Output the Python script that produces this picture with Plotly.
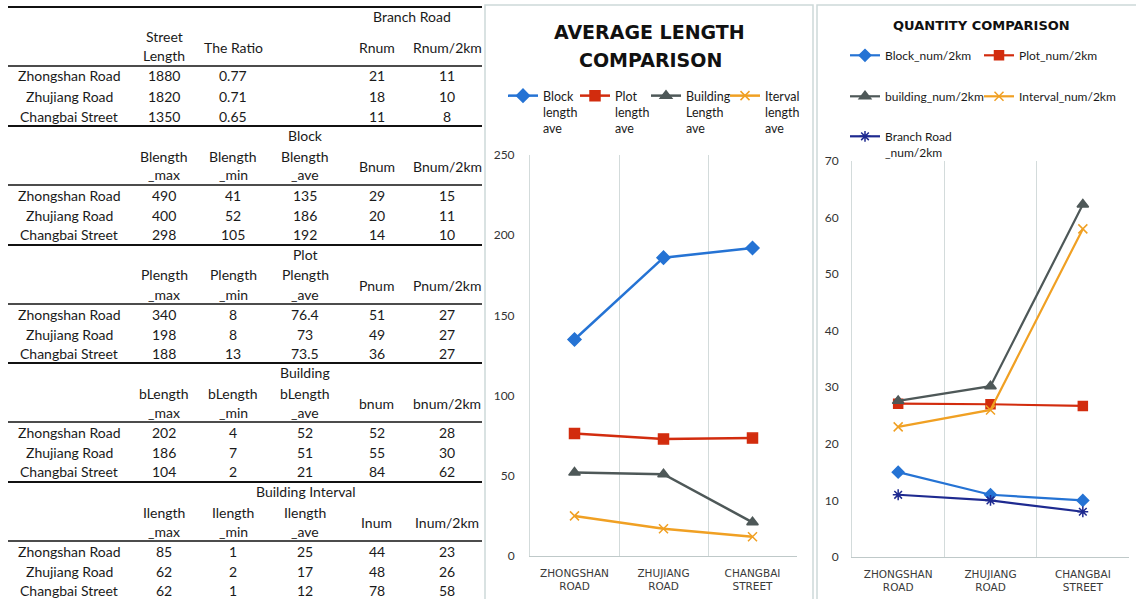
import plotly.graph_objects as go

W, H = 1136, 599

# ---------------- data ----------------
roads = ["Zhongshan Road", "Zhujiang Road", "Changbai Street"]
road_ticks = ["ZHONGSHAN<br>ROAD", "ZHUJIANG<br>ROAD", "CHANGBAI<br>STREET"]

street_length = [1880, 1820, 1350]
the_ratio = [0.77, 0.71, 0.65]
rnum = [21, 18, 11]
rnum_2km = [11, 10, 8]

blength_max = [490, 400, 298]
blength_min = [41, 52, 105]
blength_ave = [135, 186, 192]
bnum = [29, 20, 14]
bnum_2km = [15, 11, 10]

plength_max = [340, 198, 188]
plength_min = [8, 8, 13]
plength_ave = [76.4, 73, 73.5]
pnum = [51, 49, 36]
pnum_2km = [27, 27, 27]

bld_length_max = [202, 186, 104]
bld_length_min = [4, 7, 2]
bld_length_ave = [52, 51, 21]
bld_num = [52, 55, 84]
bld_num_2km = [28, 30, 62]

ilength_max = [85, 62, 62]
ilength_min = [1, 2, 1]
ilength_ave = [25, 17, 12]
inum = [44, 48, 78]
inum_2km = [23, 26, 58]

# values as drawn in the quantity chart
q_block = [15, 11, 10]
q_plot = [27.1, 27.0, 26.7]
q_building = [27.6, 30.2, 62.3]
q_interval = [23, 26, 58]
q_branch = [11, 10, 8]

# ---------------- helpers ----------------
def px(x):
    return x / W

def py(y):
    return 1 - y / H

TXT = "#1a1a1a"
TFONT = "Lato"

annotations = []
shapes = []

def txt(x, y, s, size=14, color=TXT, family=TFONT, bold=False, xanchor="center"):
    annotations.append(dict(
        x=px(x), y=py(y), xref="paper", yref="paper", text=("<b>%s</b>" % s) if bold else s,
        showarrow=False, xanchor=xanchor, yanchor="middle",
        font=dict(family=family, size=size, color=color), borderpad=0))

def hline(y, w=2, x0=8, x1=482, color="#111111"):
    shapes.append(dict(type="line", xref="paper", yref="paper", x0=px(x0), x1=px(x1),
                       y0=py(y), y1=py(y), line=dict(color=color, width=w)))

cols = [69, 164, 233, 305, 377, 447]
tops = [7, 126, 245, 363, 482]

def fmt(v):
    return ("%g" % v)

sections = [
    dict(title="Branch Road", tx=412,
         heads=[("Street", "Length"), None, None, "The Ratio", None, "Rnum", "Rnum/2km"],
         cols=[street_length, ["%.2f" % v for v in the_ratio], None, rnum, rnum_2km]),
    dict(title="Block", tx=305,
         heads=[("Blength", "_max"), ("Blength", "_min"), ("Blength", "_ave"), None, None, "Bnum", "Bnum/2km"],
         cols=[blength_max, blength_min, blength_ave, bnum, bnum_2km]),
    dict(title="Plot", tx=305,
         heads=[("Plength", "_max"), ("Plength", "_min"), ("Plength", "_ave"), None, None, "Pnum", "Pnum/2km"],
         cols=[plength_max, plength_min, plength_ave, pnum, pnum_2km]),
    dict(title="Building", tx=305,
         heads=[("bLength", "_max"), ("bLength", "_min"), ("bLength", "_ave"), None, None, "bnum", "bnum/2km"],
         cols=[bld_length_max, bld_length_min, bld_length_ave, bld_num, bld_num_2km]),
    dict(title="Building Interval", tx=306,
         heads=[("Ilength", "_max"), ("Ilength", "_min"), ("Ilength", "_ave"), None, None, "Inum", "Inum/2km"],
         cols=[ilength_max, ilength_min, ilength_ave, inum, inum_2km]),
]

for si, sec in enumerate(sections):
    t = tops[si]
    hline(t, 2)
    hline(t + 59, 1.6)
    txt(sec["tx"], t + 9, sec["title"])
    h = sec["heads"]
    for ci in range(3):
        if h[ci] is not None:
            txt(cols[ci + 1], t + 30, h[ci][0])
            txt(cols[ci + 1], t + 49, h[ci][1])
    if si == 0:
        txt(cols[2], t + 40, h[3])
    txt(cols[4], t + 40, h[5])
    txt(cols[5], t + 40, h[6])
    for ri, road in enumerate(roads):
        yy = t + 69 + 20 * ri - (1 if ri == 2 and si > 0 else 0)
        txt(cols[0], yy, road)
        for ci, col in enumerate(sec["cols"]):
            if col is None:
                continue
            v = col[ri]
            txt(cols[ci + 1], yy, v if isinstance(v, str) else fmt(v))

# panel borders
for x0, x1 in [(485, 813), (817, 1145)]:
    shapes.append(dict(type="rect", xref="paper", yref="paper", x0=px(x0), x1=px(x1),
                       y0=py(610), y1=py(5), line=dict(color="#CDD9D9", width=1.5),
                       fillcolor="rgba(0,0,0,0)", layer="below"))

# chart titles
txt(649, 32, "AVERAGE LENGTH", size=19, family="DejaVu Sans", bold=True, color="#111111")
txt(650, 60, "COMPARISON", size=19, family="DejaVu Sans", bold=True, color="#111111")
txt(981, 25, "QUANTITY COMPARISON", size=13, family="DejaVu Sans", bold=True, color="#111111")

# ---------------- traces ----------------
BLUE = "#2573D4"
RED = "#D22C0E"
GRAY = "#4E5858"
ORANGE = "#F0A023"
NAVY = "#1E2A90"

fig = go.Figure()

def add(y, name, color, symbol, size, xa, ya, legend, width=2.5):
    fig.add_trace(go.Scatter(
        x=road_ticks, y=y, name=name, mode="lines+markers",
        line=dict(color=color, width=width),
        marker=dict(symbol=symbol, size=size, color=color, line=dict(color=color, width=1.5)),
        xaxis=xa, yaxis=ya, legend=legend, cliponaxis=False))

add(blength_ave, "Block<br>length<br>ave", BLUE, "diamond", 10, "x", "y", "legend")
add(plength_ave, "Plot<br>length<br>ave", RED, "square", 10, "x", "y", "legend2")
add(bld_length_ave, "Building<br>Length<br>ave", GRAY, "triangle-up", 10, "x", "y", "legend3")
add(ilength_ave, "Iterval<br>length<br>ave", ORANGE, "x-thin-open", 9, "x", "y", "legend4")

add(q_block, "Block_num/2km", BLUE, "diamond", 9, "x2", "y2", "legend5", 2.2)
add(q_plot, "Plot_num/2km", RED, "square", 9, "x2", "y2", "legend6", 2.2)
add(q_building, "building_num/2km", GRAY, "triangle-up", 10, "x2", "y2", "legend7", 2.2)
add(q_interval, "Interval_num/2km", ORANGE, "x-thin-open", 9, "x2", "y2", "legend8", 2.2)
add(q_branch, "Branch Road<br>_num/2km", NAVY, "asterisk-open", 9, "x2", "y2", "legend9", 2.2)

def legend(x, y, size=12.5):
    return dict(x=px(x), y=py(y), xanchor="left", yanchor="top", orientation="v",
                bgcolor="rgba(0,0,0,0)", borderwidth=0, valign="top", itemwidth=30,
                font=dict(family=TFONT, size=size, color=TXT), tracegroupgap=0,
                itemclick=False, itemdoubleclick=False)

GRID = "#D3DBDB"
AXL = "#BFC9C9"
tickfont = dict(family=TFONT, size=12, color="#333333")
catfont = dict(family="DejaVu Sans", size=10.5, color="#3a3a3a")

fig.update_layout(
    width=W, height=H, autosize=False,
    margin=dict(l=0, r=0, t=0, b=0, pad=0, autoexpand=False),
    paper_bgcolor="white", plot_bgcolor="white",
    showlegend=True,
    annotations=annotations, shapes=shapes,
    xaxis=dict(domain=[px(530), px(797)], anchor="y", type="category", range=[-0.5, 2.5],
               tickson="boundaries", showgrid=True, gridcolor=GRID, gridwidth=1,
               showline=True, linecolor=AXL, linewidth=1, ticks="", tickfont=catfont,
               ticklabelstandoff=7, zeroline=False, fixedrange=True, automargin=False),
    yaxis=dict(domain=[py(556), py(155)], anchor="x", range=[0, 250], dtick=50,
               showgrid=False, showline=True, linecolor=GRID, linewidth=1, ticks="",
               tickfont=tickfont, ticklabelstandoff=12, zeroline=False, fixedrange=True,
               automargin=False),
    xaxis2=dict(domain=[px(852), px(1129)], anchor="y2", type="category", range=[-0.5, 2.5],
                tickson="boundaries", showgrid=True, gridcolor=GRID, gridwidth=1,
                showline=True, linecolor=AXL, linewidth=1, ticks="", tickfont=catfont,
                ticklabelstandoff=7, zeroline=False, fixedrange=True, automargin=False),
    yaxis2=dict(domain=[py(557), py(161)], anchor="x2", range=[0, 70], dtick=10,
                showgrid=False, showline=True, linecolor=GRID, linewidth=1, ticks="",
                tickfont=tickfont, ticklabelstandoff=10, zeroline=False, fixedrange=True,
                automargin=False),
    legend=legend(503, 81),
    legend2=legend(575, 81),
    legend3=legend(646, 81),
    legend4=legend(725, 81),
    legend5=legend(845, 41, 12),
    legend6=legend(979, 41, 12),
    legend7=legend(845, 82, 12),
    legend8=legend(979, 82, 12),
    legend9=legend(845, 122, 12),
)

fig.write_html("out.html", include_plotlyjs=True, config={"displayModeBar": False},
               post_script="document.body.style.margin='0';")
